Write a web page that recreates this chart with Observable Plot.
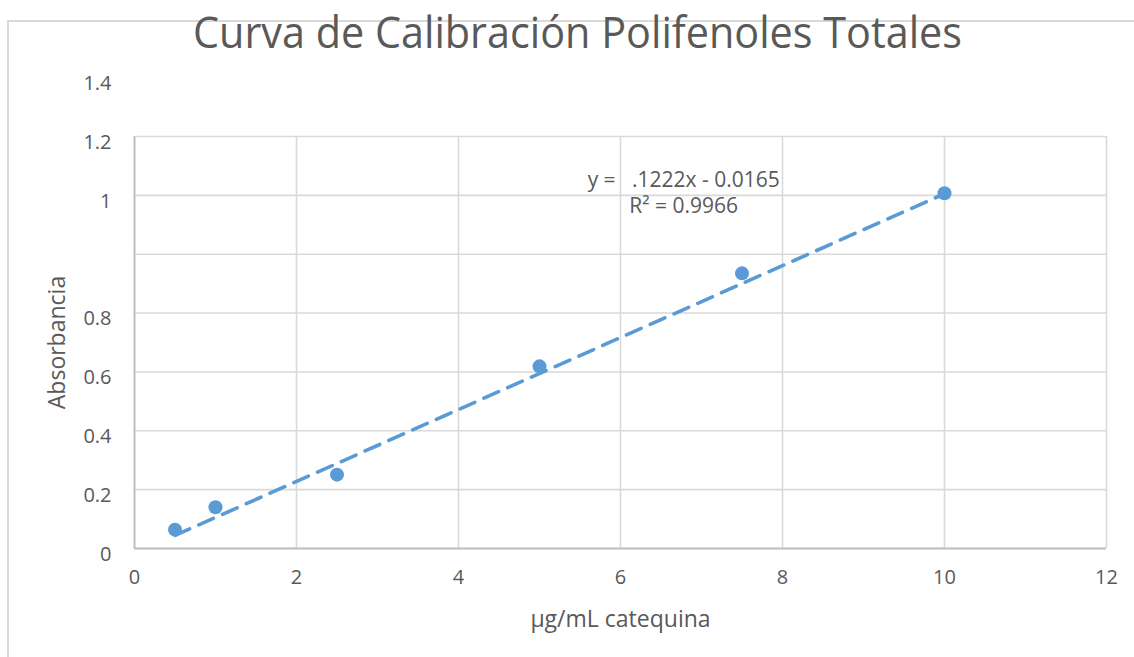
<!DOCTYPE html>
<html><head><meta charset="utf-8">
<script src="https://cdn.jsdelivr.net/npm/d3@7"></script>
<script src="https://cdn.jsdelivr.net/npm/@observablehq/plot@0.6"></script>
<style>
html,body{margin:0;padding:0;background:#fff;}
#wrap{position:relative;width:1134px;height:657px;overflow:hidden;font-family:"Open Sans",sans-serif;background:#fff;}
#chart{position:absolute;left:0;top:0;}
#border{position:absolute;left:7px;top:20px;right:-10px;bottom:-10px;border-left:2px solid #d9d9d9;border-top:2px solid #d9d9d9;pointer-events:none;}
#title{position:absolute;top:10px;left:193px;white-space:nowrap;font-size:43px;line-height:43px;color:#595959;transform-origin:0 0;}
</style></head>
<body>
<div id="wrap"><div id="chart"></div><div id="border"></div><div id="title">Curva de Calibración Polifenoles Totales</div></div>
<script>
// Data
const concentracion = [0.5, 1, 2.5, 5, 7.5, 10];          // µg/mL catequina
const absorbancia   = [0.064, 0.140, 0.251, 0.619, 0.935, 1.207];
const xTicks = [0, 2, 4, 6, 8, 10, 12];
const yGrid  = [0, 0.2, 0.4, 0.6, 0.8, 1.0, 1.2, 1.4];
const yTickSlots  = [0, 0.2, 0.4, 0.6, 0.8, 1.2, 1.4, 1.6];
const yTickLabels = ["0", "0.2", "0.4", "0.6", "0.8", "1", "1.2", "1.4"];
const slope = 0.1222, intercept = -0.0165, r2 = 0.9966;
const trendRange = [0.5, 10];

const points = concentracion.map((x, i) => ({x, y: absorbancia[i]}));
const trend = trendRange.map(x => ({x, y: slope * x + intercept}));
const labelOf = new Map(yTickSlots.map((s, i) => [s, yTickLabels[i]]));

const blue = "#5B9BD5";
const chart = Plot.plot({
  width: 1134, height: 657,
  marginLeft: 134, marginRight: 28, marginTop: 136, marginBottom: 109,
  style: {fontFamily: "'Open Sans', sans-serif", fontSize: "20px", color: "#595959", background: "transparent"},
  x: {domain: [0, 12]},
  y: {domain: [0, 1.4]},
  marks: [
    Plot.gridX(xTicks, {stroke: "#d9d9d9", strokeOpacity: 1, strokeWidth: 1.6}),
    Plot.gridY(yGrid, {stroke: "#d9d9d9", strokeOpacity: 1, strokeWidth: 1.6}),
    Plot.ruleX([0], {stroke: "#bfbfbf", strokeWidth: 1.8}),
    Plot.ruleY([0], {stroke: "#bfbfbf", strokeWidth: 1.8}),
    Plot.axisX(xTicks, {tickSize: 0, tickPadding: 21, label: null}),
    Plot.axisX({ticks: [], label: "μg/mL catequina", labelAnchor: "center", labelArrow: "none", labelOffset: 78, fontSize: 23}),
    Plot.axisY(yTickSlots, {tickSize: 0, tickPadding: 23, dy: 6, tickFormat: d => labelOf.get(d), label: null}),
    Plot.axisY({ticks: [], label: "Absorbancia", labelAnchor: "center", labelArrow: "none", labelOffset: 86, dx: -8, fontSize: 23}),
    Plot.line(trend, {x: "x", y: "y", stroke: blue, strokeWidth: 3.6, strokeDasharray: "16,10"}),
    Plot.dot(points, {x: "x", y: "y", r: 7, fill: blue, stroke: "none"}),
    Plot.text([`y =\u00a0\u00a0\u00a0.1222x - 0.0165\nR² = ${r2}`], {x: 6.78, y: 1.212, text: d => d, fontSize: 21, fill: "#595959", lineHeight: 1.25})
  ]
});
document.getElementById("chart").appendChild(chart);
const t = document.getElementById("title");
const w = t.getBoundingClientRect().width;
t.style.transform = `scaleX(${769 / w})`;
</script>
</body></html>
